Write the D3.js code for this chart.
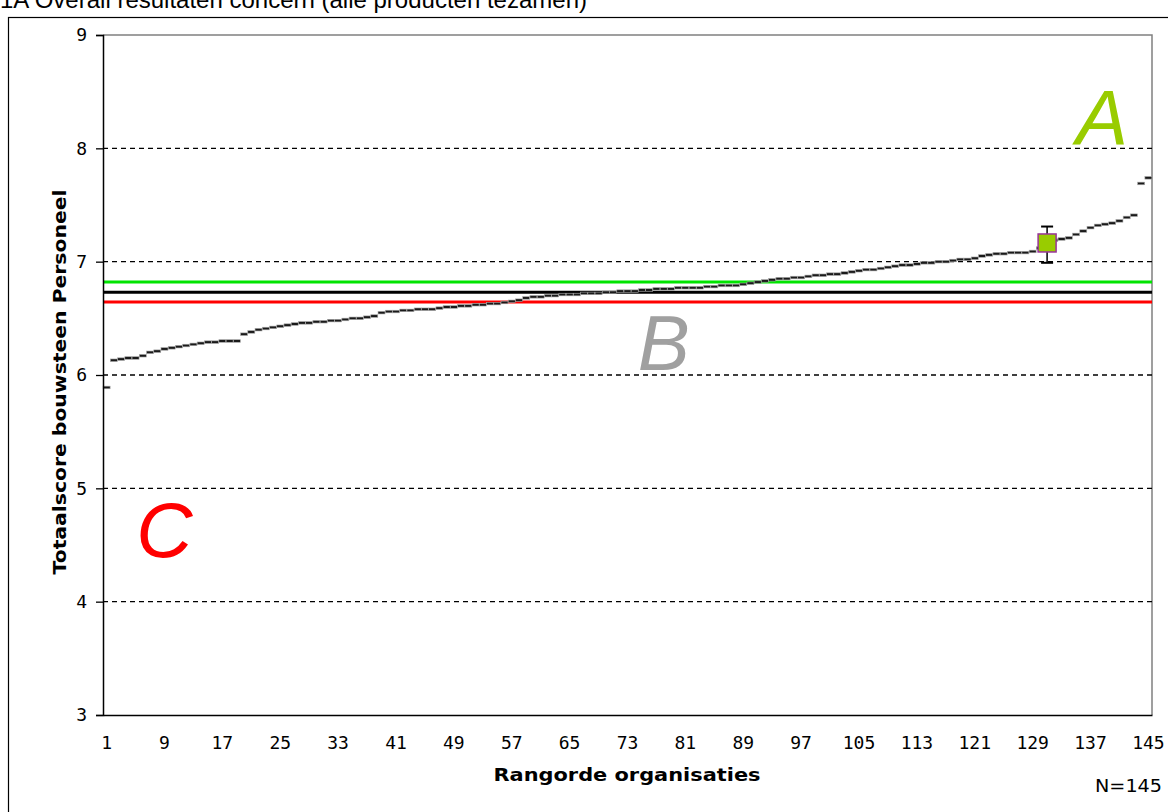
<!DOCTYPE html>
<html>
<head>
<meta charset="utf-8">
<script src="https://cdn.jsdelivr.net/npm/d3@7"></script>
<style>
  html, body { margin: 0; padding: 0; background: #fff; }
  svg { display: block; }
</style>
</head>
<body>
<div id="chart"></div>
<script>
// Scores per organisation, sorted (rank 1..145)
const scores = [
  5.89, 6.13, 6.14, 6.15, 6.15, 6.17, 6.20, 6.21, 6.23, 6.24,
  6.25, 6.26, 6.27, 6.28, 6.29, 6.29, 6.30, 6.30, 6.30, 6.36,
  6.38, 6.40, 6.41, 6.42, 6.43, 6.44, 6.45, 6.46, 6.46, 6.47,
  6.47, 6.48, 6.48, 6.49, 6.50, 6.50, 6.51, 6.52, 6.55, 6.56,
  6.56, 6.57, 6.57, 6.58, 6.58, 6.58, 6.59, 6.60, 6.60, 6.61,
  6.61, 6.62, 6.62, 6.63, 6.63, 6.64, 6.65, 6.66, 6.68, 6.69,
  6.69, 6.70, 6.70, 6.71, 6.71, 6.71, 6.72, 6.72, 6.72, 6.73,
  6.73, 6.74, 6.74, 6.74, 6.75, 6.75, 6.76, 6.76, 6.76, 6.77,
  6.77, 6.77, 6.77, 6.78, 6.78, 6.79, 6.79, 6.79, 6.80, 6.81,
  6.82, 6.83, 6.84, 6.85, 6.85, 6.86, 6.86, 6.87, 6.88, 6.88,
  6.89, 6.89, 6.90, 6.91, 6.92, 6.93, 6.93, 6.94, 6.95, 6.96,
  6.97, 6.97, 6.98, 6.99, 6.99, 7.00, 7.00, 7.01, 7.02, 7.02,
  7.03, 7.05, 7.06, 7.07, 7.07, 7.08, 7.08, 7.08, 7.09, 7.12,
  7.17, 7.19, 7.20, 7.21, 7.24, 7.27, 7.30, 7.32, 7.33, 7.34,
  7.36, 7.39, 7.41, 7.69, 7.74
];
const ranks = scores.map((_, i) => i + 1);
const xTicks = [1, 9, 17, 25, 33, 41, 49, 57, 65, 73, 81, 89, 97, 105, 113, 121, 129, 137, 145];
const yTicks = [3, 4, 5, 6, 7, 8, 9];
const gridValues = [4, 5, 6, 7, 8];

// reference lines: upper bound, mean, lower bound
const refNames = ['boven', 'gemiddeld', 'onder'];
const refValues = [6.82, 6.73, 6.645];
const refColors = ['#00e400', '#000000', '#ff0000'];

// own organisation with confidence interval
const ownRank = 131;
const ownScore = 7.165;
const ownLow = 6.99;
const ownHigh = 7.31;

// zone letters
const zoneLetters = ['A', 'B', 'C'];
const zoneScores = [8.03, 6.04, 4.39];
const zoneRanks = [138.6, 78, 9];
const zoneColors = ['#99cc00', '#a0a0a0', '#ff0000'];

const W = 1168, H = 812;
const L = 103, R = 1152, T = 35, B = 715;
const mono = '"DejaVu Sans Mono", monospace';
const sans = '"DejaVu Sans", Verdana, sans-serif';

const svg = d3.select('#chart').append('svg')
  .attr('width', W).attr('height', H);

// title (partly cut off at the top)
svg.append('text')
  .attr('x', 0).attr('y', 8)
  .attr('font-family', '"Liberation Sans", Arial, sans-serif')
  .attr('font-size', 24)
  .text('1A Overall resultaten concern (alle producten tezamen)');

// outer frame
svg.append('rect')
  .attr('x', 8.5).attr('y', 17.5)
  .attr('width', W + 20).attr('height', H + 20)
  .attr('fill', 'none').attr('stroke', '#000').attr('stroke-width', 1.2);

const x = d3.scaleBand().domain(ranks).range([L, R]);
const y = d3.scaleLinear().domain([3, 9]).range([B, T]);
const cx = r => x(Math.floor(r)) + x.bandwidth() * (0.5 + r - Math.floor(r));

// plot border top/right
svg.append('path')
  .attr('d', `M${L},${y(9)}H${R}V${B}`)
  .attr('fill', 'none').attr('stroke', '#808080').attr('stroke-width', 1.5);

// dashed grid
svg.append('g').selectAll('line').data(gridValues).join('line')
  .attr('x1', L).attr('x2', R)
  .attr('y1', d => y(d)).attr('y2', d => y(d))
  .attr('stroke', '#000').attr('stroke-width', 1.3)
  .attr('stroke-dasharray', '5,4');

// reference lines
svg.append('g').selectAll('line').data(refValues).join('line')
  .attr('x1', L).attr('x2', R)
  .attr('y1', d => y(d)).attr('y2', d => y(d))
  .attr('stroke', (d, i) => refColors[i]).attr('stroke-width', 3)
  .append('title').text((d, i) => refNames[i]);

// zone letters
svg.append('g').selectAll('text').data(zoneLetters).join('text')
  .attr('x', (d, i) => cx(zoneRanks[i]))
  .attr('y', (d, i) => y(zoneScores[i]))
  .attr('text-anchor', 'middle')
  .attr('font-family', '"Liberation Sans", Arial, sans-serif')
  .attr('font-style', 'italic')
  .attr('font-size', 78)
  .attr('fill', (d, i) => zoneColors[i])
  .text(d => d);

// organisation scores as dash markers
svg.append('g').selectAll('rect').data(scores).join('rect')
  .attr('x', (d, i) => cx(ranks[i]) - 3.5)
  .attr('y', d => y(d) - 1.3)
  .attr('width', 7).attr('height', 2.6)
  .attr('fill', '#1a1a1a')
  .attr('stroke', '#aaa').attr('stroke-width', 0.6);

// own organisation: error bar + square
const own = svg.append('g');
own.append('line')
  .attr('x1', cx(ownRank)).attr('x2', cx(ownRank))
  .attr('y1', y(ownHigh)).attr('y2', y(ownLow))
  .attr('stroke', '#000').attr('stroke-width', 1.5);
own.selectAll('line.cap').data([ownHigh, ownLow]).join('line')
  .attr('class', 'cap')
  .attr('x1', cx(ownRank) - 6).attr('x2', cx(ownRank) + 6)
  .attr('y1', d => y(d)).attr('y2', d => y(d))
  .attr('stroke', '#000').attr('stroke-width', 2);
own.append('rect')
  .attr('x', cx(ownRank) - 9).attr('y', y(ownScore) - 9)
  .attr('width', 18).attr('height', 18)
  .attr('fill', '#99cc00')
  .attr('stroke', '#993399').attr('stroke-width', 1.5);

// axes
const yAxis = svg.append('g')
  .attr('transform', `translate(${L},0)`)
  .call(d3.axisLeft(y).tickValues(yTicks).tickSize(7).tickPadding(9).tickFormat(d3.format('d')));
yAxis.select('.domain').attr('stroke-width', 1.5);
yAxis.selectAll('.tick line').attr('stroke-width', 1.3);
yAxis.selectAll('text').attr('font-family', mono).attr('font-size', 18).attr('fill', '#000');

const xAxis = svg.append('g')
  .attr('transform', `translate(0,${B})`)
  .call(d3.axisBottom(x).tickValues(xTicks).tickSize(0).tickPadding(21));
xAxis.select('.domain').attr('stroke-width', 1.5);
xAxis.selectAll('text').attr('font-family', mono).attr('font-size', 18).attr('fill', '#000');

// axis titles
svg.append('text')
  .attr('transform', `translate(66,${(T + B) / 2 + 7}) rotate(-90)`)
  .attr('text-anchor', 'middle')
  .attr('font-family', sans).attr('font-weight', 'bold').attr('font-size', 18)
  .attr('textLength', 385).attr('lengthAdjust', 'spacingAndGlyphs')
  .text('Totaalscore bouwsteen Personeel');

svg.append('text')
  .attr('x', 627).attr('y', 781)
  .attr('text-anchor', 'middle')
  .attr('font-family', sans).attr('font-weight', 'bold').attr('font-size', 18)
  .attr('textLength', 267).attr('lengthAdjust', 'spacingAndGlyphs')
  .text('Rangorde organisaties');

svg.append('text')
  .attr('x', 1162).attr('y', 792)
  .attr('text-anchor', 'end')
  .attr('font-family', sans).attr('font-size', 18)
  .attr('textLength', 67).attr('lengthAdjust', 'spacingAndGlyphs')
  .text('N=145');
</script>
</body>
</html>
